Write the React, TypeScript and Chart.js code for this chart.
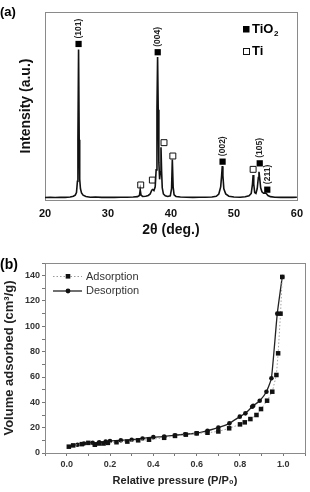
import { useEffect, useRef } from "react";
import { Chart, registerables } from "chart.js";

Chart.register(...registerables);

const FONT = '"Liberation Sans", Arial, Helvetica, sans-serif';

// ---------- (a) XRD pattern ----------
const twoTheta = [
  20.0, 20.8, 21.6, 22.4, 23.2, 24.0, 24.5, 24.8, 25.0, 25.15, 25.23, 25.33, 25.43, 25.51, 25.63,
  25.8, 26.05, 26.5, 27.2, 28.0, 29.0, 30.0, 31.0, 32.0, 33.0, 34.0, 34.7, 35.0, 35.12, 35.25, 35.5,
  36.0, 36.4, 36.7, 36.95, 37.1, 37.3, 37.5, 37.65, 37.78, 37.88, 37.98, 38.08, 38.2, 38.32, 38.42,
  38.52, 38.62, 38.8, 39.1, 39.5, 39.9, 40.1, 40.22, 40.35, 40.5, 40.8, 41.5, 42.5, 43.5, 44.5, 45.5,
  46.5, 47.2, 47.6, 47.9, 48.05, 48.15, 48.25, 48.4, 48.7, 49.2, 50.0, 51.0, 51.8, 52.4, 52.75, 52.95,
  53.05, 53.15, 53.3, 53.5, 53.7, 53.88, 53.98, 54.08, 54.25, 54.45, 54.7, 54.95, 55.15, 55.4, 55.8,
  56.5, 57.5, 58.5, 59.3, 60.0,
];
const intensity = [
  1.3, 1.5, 1.3, 1.5, 1.4, 1.6, 2.0, 2.6, 4.0, 10, 32, 80, 32, 11, 6,
  3.8, 2.6, 1.9, 1.5, 1.6, 1.4, 1.5, 1.4, 1.5, 1.5, 1.6, 1.8, 2.4, 5.5, 2.6, 1.9,
  2.0, 2.4, 3.2, 5.2, 5.6, 5.0, 7, 16, 48, 76, 48, 20, 11, 15, 28,
  15, 6.5, 3.2, 2.2, 1.9, 2.2, 6, 21.5, 7, 2.8, 1.9, 1.6, 1.5, 1.4, 1.5, 1.5,
  1.6, 2.0, 3.2, 7, 13, 18, 13, 6, 3.2, 2.0, 1.6, 1.5, 1.7, 2.2, 3.5, 8.5,
  13.3, 8.5, 4, 3.5, 6, 12, 15, 12, 6.5, 4.4, 3.6, 3.8, 3.4, 2.4, 1.8,
  1.5, 1.4, 1.5, 1.4, 1.5,
];
const tio2Pos = [25.33, 37.9, 48.2, 54.1, 55.3];
const tio2Mark = [83, 78.6, 20.4, 19.5, 5.5];
const tio2Hkl = ["(101)", "(004)", "(002)", "(105)", "(211)"];
const tiPos = [35.2, 37.05, 38.9, 40.3, 53.05];
const tiMark = [8, 10.6, 30.5, 23.4, 16.3];
const thetaTicks = [20, 30, 40, 50, 60];

// ---------- (b) N2 isotherm ----------
const adsP = [
  0.01, 0.03, 0.07, 0.1, 0.13, 0.15, 0.17, 0.19, 0.23, 0.28, 0.33, 0.38, 0.45, 0.5, 0.55, 0.6,
  0.65, 0.7, 0.75, 0.8, 0.822, 0.848, 0.876, 0.897, 0.925, 0.949, 0.968, 0.976, 0.987, 0.995,
];
const adsV = [
  5, 6, 7, 8, 6.5, 7.5, 7.5, 8, 8.5, 9, 10, 10.5, 12, 13.5, 14.5, 15.5,
  16, 17, 19.5, 22.6, 24.2, 26.8, 30, 34.7, 41.3, 48.4, 61.6, 78.7, 110, 139,
];
const desP = [
  0.995, 0.972, 0.945, 0.922, 0.891, 0.861, 0.856, 0.825, 0.799, 0.751, 0.7, 0.65, 0.6, 0.547,
  0.5, 0.45, 0.4, 0.35, 0.3, 0.25, 0.2, 0.18, 0.15, 0.12, 0.08, 0.05,
];
const desV = [
  139, 110, 59, 48.4, 41.3, 37.3, 36.5, 31.3, 28.7, 23.4, 20, 17.6, 15.6, 14.8,
  14, 13, 12.5, 11.5, 10.5, 10, 9.5, 9, 8.5, 8, 7.5, 6.5,
];
const pressureTicks = [-0.1, 0, 0.1, 0.2, 0.3, 0.4, 0.5, 0.6, 0.7, 0.8, 0.9, 1.0, 1.1];
const pressureLabels = ["0.0", "0.2", "0.4", "0.6", "0.8", "1.0"];
const volumeTicks = [0, 10, 20, 30, 40, 50, 60, 70, 80, 90, 100, 110, 120, 130, 140, 150];
const volumeLabels = ["0", "20", "40", "60", "80", "100", "120", "140"];

const frameColor = "#8a8a8a";

function pts(xs: number[], ys: number[]) {
  return xs.map((x, i) => ({ x, y: ys[i] }));
}

function drawFrame(chart: any) {
  const { ctx, chartArea: a } = chart;
  ctx.save();
  ctx.strokeStyle = frameColor;
  ctx.lineWidth = 1;
  ctx.strokeRect(Math.round(a.left) + 0.5, Math.round(a.top) + 0.5, Math.round(a.right - a.left), Math.round(a.bottom - a.top));
  ctx.restore();
}

const xrdDecor = {
  id: "xrdDecor",
  beforeDatasetsDraw(chart: any) {
    drawFrame(chart);
  },
  afterDatasetsDraw(chart: any) {
    const { ctx } = chart;
    const xs = chart.scales.x;
    const ys = chart.scales.y;
    ctx.save();
    // Miller indices above the TiO2 reflections
    ctx.fillStyle = "#222";
    ctx.font = `bold 8.5px ${FONT}`;
    ctx.textAlign = "left";
    ctx.textBaseline = "middle";
    tio2Hkl.forEach((t, i) => {
      const px = xs.getPixelForValue(tio2Pos[i]);
      const py = ys.getPixelForValue(tio2Mark[i]) - 5.5;
      ctx.save();
      ctx.translate(px, py);
      ctx.rotate(-Math.PI / 2);
      ctx.fillText(t, 0, 0);
      ctx.restore();
    });
    // phase key
    const kx = 246;
    ctx.fillStyle = "#000";
    ctx.fillRect(kx - 3, 26, 6.5, 6.5);
    ctx.strokeStyle = "#111";
    ctx.lineWidth = 1;
    ctx.strokeRect(kx - 2.5, 48.5, 6, 6);
    ctx.font = `bold 13px ${FONT}`;
    ctx.textAlign = "left";
    ctx.textBaseline = "middle";
    ctx.fillText("TiO", 252, 29.5);
    const w = ctx.measureText("TiO").width;
    ctx.font = `bold 8px ${FONT}`;
    ctx.fillText("2", 252 + w + 0.5, 34);
    ctx.font = `bold 13px ${FONT}`;
    ctx.fillText("Ti", 252, 51.5);
    // panel tag
    ctx.font = `bold 13px ${FONT}`;
    ctx.fillText("(a)", 0, 12);
    ctx.restore();
  },
};

const isoDecor = {
  id: "isoDecor",
  beforeDatasetsDraw(chart: any) {
    drawFrame(chart);
  },
  afterDraw(chart: any) {
    const { ctx } = chart;
    ctx.save();
    // series key
    const y1 = 30;
    const y2 = 45;
    ctx.strokeStyle = "#9a9a9a";
    ctx.lineWidth = 1;
    ctx.setLineDash([1.5, 2]);
    ctx.beginPath();
    ctx.moveTo(53, y1 + 0.5);
    ctx.lineTo(82, y1 + 0.5);
    ctx.stroke();
    ctx.setLineDash([]);
    ctx.fillStyle = "#111";
    ctx.fillRect(68 - 2.3, y1 - 2, 4.6, 4.6);
    ctx.strokeStyle = "#222";
    ctx.lineWidth = 1.3;
    ctx.beginPath();
    ctx.moveTo(53, y2);
    ctx.lineTo(82, y2);
    ctx.stroke();
    ctx.beginPath();
    ctx.arc(68, y2, 2.4, 0, Math.PI * 2);
    ctx.fill();
    ctx.fillStyle = "#333";
    ctx.font = `11px ${FONT}`;
    ctx.textAlign = "left";
    ctx.textBaseline = "middle";
    ctx.fillText("Adsorption", 86, y1 + 0.5);
    ctx.fillText("Desorption", 86, y2);
    // panel tag
    ctx.fillStyle = "#000";
    ctx.font = `bold 14px ${FONT}`;
    ctx.fillText("(b)", 0, 19);
    ctx.restore();
  },
};

function XrdPanel() {
  const ref = useRef<HTMLCanvasElement>(null);
  useEffect(() => {
    const chart = new Chart(ref.current as HTMLCanvasElement, {
      type: "scatter",
      data: {
        datasets: [
          {
            data: pts(twoTheta, intensity),
            showLine: true,
            borderColor: "#111",
            borderWidth: 1.6,
            pointRadius: 0,
            tension: 0,
          },
          {
            data: pts(tio2Pos, tio2Mark),
            pointStyle: "rect",
            pointRadius: 4.4,
            backgroundColor: "#000",
            borderColor: "#000",
            borderWidth: 0,
          },
          {
            data: pts(tiPos, tiMark),
            pointStyle: "rect",
            pointRadius: 4.2,
            backgroundColor: "#fff",
            borderColor: "#111",
            borderWidth: 1,
          },
        ],
      },
      options: {
        animation: false,
        responsive: false,
        devicePixelRatio: 1,
        layout: { padding: { top: 12, right: 8, left: 0, bottom: 0 } },
        plugins: { legend: { display: false }, tooltip: { enabled: false } },
        scales: {
          x: {
            type: "linear",
            min: 20,
            max: 60,
            afterBuildTicks: (s: any) => {
              s.ticks = thetaTicks.map((v) => ({ value: v }));
            },
            grid: { display: false, drawTicks: false },
            border: { display: false },
            ticks: { padding: 7, color: "#111", font: { family: FONT, size: 11, weight: "bold" } },
            title: {
              display: true,
              text: "2θ (deg.)",
              color: "#111",
              font: { family: FONT, size: 14, weight: "bold" },
              padding: { top: 0, bottom: 7 },
            },
            afterFit: (s: any) => {
              s.height = 46;
            },
          },
          y: {
            min: 0,
            max: 100,
            grid: { display: false, drawTicks: false },
            border: { display: false },
            ticks: { display: false },
            title: {
              display: true,
              text: "Intensity (a.u.)",
              color: "#111",
              font: { family: FONT, size: 14, weight: "bold" },
              padding: { top: 18, bottom: 0 },
            },
            afterFit: (s: any) => {
              s.width = 45;
            },
          },
        },
      },
      plugins: [xrdDecor],
    } as any);
    return () => chart.destroy();
  }, []);
  return <canvas ref={ref} width={310} height={246} style={{ display: "block" }} />;
}

function IsothermPanel() {
  const ref = useRef<HTMLCanvasElement>(null);
  useEffect(() => {
    const chart = new Chart(ref.current as HTMLCanvasElement, {
      type: "scatter",
      data: {
        datasets: [
          {
            label: "Adsorption",
            data: pts(adsP, adsV),
            showLine: true,
            borderColor: "#a0a0a0",
            borderWidth: 1,
            borderDash: [1.5, 2],
            pointStyle: "rect",
            pointRadius: 3.2,
            pointBackgroundColor: "#111",
            pointBorderWidth: 0,
          },
          {
            label: "Desorption",
            data: pts(desP, desV),
            showLine: true,
            borderColor: "#222",
            borderWidth: 1.3,
            tension: 0.15,
            pointStyle: "circle",
            pointRadius: 2.3,
            pointBackgroundColor: "#111",
            pointBorderWidth: 0,
          },
        ],
      },
      options: {
        animation: false,
        responsive: false,
        devicePixelRatio: 1,
        layout: { padding: { top: 17, right: 5, left: 0, bottom: 0 } },
        plugins: { legend: { display: false }, tooltip: { enabled: false } },
        scales: {
          x: {
            type: "linear",
            min: -0.1,
            max: 1.1,
            afterBuildTicks: (s: any) => {
              s.ticks = pressureTicks.map((v) => ({ value: v }));
            },
            grid: { display: true, drawOnChartArea: false, drawTicks: true, tickLength: 3, tickColor: "#777" },
            border: { display: false },
            ticks: {
              autoSkip: false,
              maxRotation: 0,
              padding: 3,
              color: "#333",
              font: { family: FONT, size: 9, weight: "bold" },
              callback: (v: any) => {
                const s = Number(v).toFixed(1);
                return pressureLabels.includes(s) ? s : "";
              },
            },
            title: {
              display: true,
              text: "Relative pressure (P/P₀)",
              color: "#222",
              font: { family: FONT, size: 11, weight: "bold" },
              padding: { top: 0, bottom: 4 },
            },
            afterFit: (s: any) => {
              s.height = 39;
            },
          },
          y: {
            min: 0,
            max: 150,
            afterBuildTicks: (s: any) => {
              s.ticks = volumeTicks.map((v) => ({ value: v }));
            },
            grid: { display: true, drawOnChartArea: false, drawTicks: true, tickLength: 3, tickColor: "#777" },
            border: { display: false },
            ticks: {
              autoSkip: false,
              padding: 2,
              color: "#333",
              font: { family: FONT, size: 9, weight: "bold" },
              callback: (v: any) => {
                const s = String(Math.round(Number(v)));
                return volumeLabels.includes(s) ? s : "";
              },
            },
            title: {
              display: true,
              text: "Volume adsorbed (cm³/g)",
              color: "#222",
              font: { family: FONT, size: 13, weight: "bold" },
              padding: { top: 2, bottom: 0 },
            },
            afterFit: (s: any) => {
              s.width = 45;
            },
          },
        },
      },
      plugins: [isoDecor],
    } as any);
    return () => chart.destroy();
  }, []);
  return <canvas ref={ref} width={310} height={246} style={{ display: "block" }} />;
}

export default function App() {
  return (
    <div style={{ position: "absolute", left: 0, top: 0, width: 310, height: 492, background: "#fff" }}>
      <XrdPanel />
      <IsothermPanel />
    </div>
  );
}
